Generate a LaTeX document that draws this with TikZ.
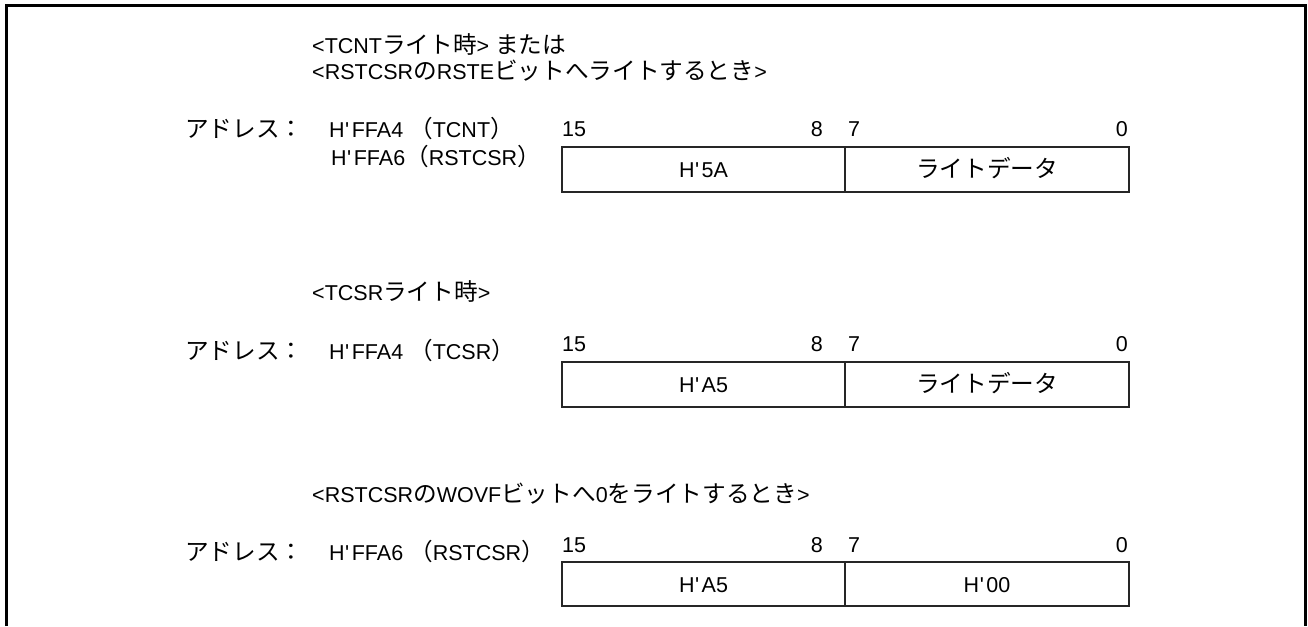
\documentclass[tikz,border=0pt]{standalone}
\usepackage{fontspec}
\setmainfont{Liberation Sans}[Ligatures=TeXOff]
\newfontfamily\cjk{Noto Sans CJK JP}[Scale=1.10]
\newcommand\J[1]{{\cjk #1}}
\newcommand\ap{\kern0.5pt'\kern2.5pt}
\begin{document}
\begin{tikzpicture}[x=1pt,y=-1pt,
  font=\fontsize{21.5}{25}\selectfont,
  txt/.style={inner sep=0pt, anchor=base west},
  numr/.style={inner sep=0pt, anchor=base east},
  celltxt/.style={inner sep=0pt, anchor=base},
  boxline/.style={line width=2pt, draw=black!85},
  frameline/.style={line width=3pt, draw=black}]
\useasboundingbox (0,0) rectangle (1308,626);
% outer frame (bottom open)
\draw[frameline] (6,626) -- (6,6) -- (1305,6) -- (1305,626);

% ---------- block 1 ----------
\node[txt] (t1a) at (312,53) {<TCNT\J{ライト時}> \J{または}};
\node[txt] (t1b) at (312,79) {<RSTCSR\J{の}RSTE\J{ビットへライトするとき}>};
\node[txt] (a1) at (185,137) {\J{アドレス：}};
\node[txt] (r1a) at (329,137) {H\ap FFA4 \J{（}TCNT\J{）}};
\node[txt] (r1b) at (331,165) {H\ap FFA6\J{（}RSTCSR\J{）}};
\node[txt] (n1a) at (562,136) {15};
\node[numr] (n1b) at (823,136) {8};
\node[txt] (n1c) at (848,136) {7};
\node[numr] (n1d) at (1128,136) {0};
\draw[boxline] (562,147) rectangle (1129,192);
\draw[boxline] (845,147) -- (845,192);
\node[celltxt] (c1a) at (703.5,177) {H\ap 5A};
\node[celltxt] (c1b) at (987,177) {\J{ライトデータ}};

% ---------- block 2 ----------
\node[txt] (t2) at (312,300) {<TCSR\J{ライト時}>};
\node[txt] (a2) at (185,359) {\J{アドレス：}};
\node[txt] (r2) at (329,359) {H\ap FFA4 \J{（}TCSR\J{）}};
\node[txt] (n2a) at (562,351) {15};
\node[numr] (n2b) at (823,351) {8};
\node[txt] (n2c) at (848,351) {7};
\node[numr] (n2d) at (1128,351) {0};
\draw[boxline] (562,362) rectangle (1129,407);
\draw[boxline] (845,362) -- (845,407);
\node[celltxt] (c2a) at (703.5,392) {H\ap A5};
\node[celltxt] (c2b) at (987,392) {\J{ライトデータ}};

% ---------- block 3 ----------
\node[txt] (t3) at (312,502) {<RSTCSR\J{の}WOVF\J{ビットへ}0\J{をライトするとき}>};
\node[txt] (a3) at (185,560) {\J{アドレス：}};
\node[txt] (r3) at (329,560) {H\ap FFA6 \J{（}RSTCSR\J{）}};
\node[txt] (n3a) at (562,552) {15};
\node[numr] (n3b) at (823,552) {8};
\node[txt] (n3c) at (848,552) {7};
\node[numr] (n3d) at (1128,552) {0};
\draw[boxline] (562,562) rectangle (1129,606);
\draw[boxline] (845,562) -- (845,606);
\node[celltxt] (c3a) at (703.5,592) {H\ap A5};
\node[celltxt] (c3b) at (987,592) {H\ap 00};
\end{tikzpicture}
\end{document}
